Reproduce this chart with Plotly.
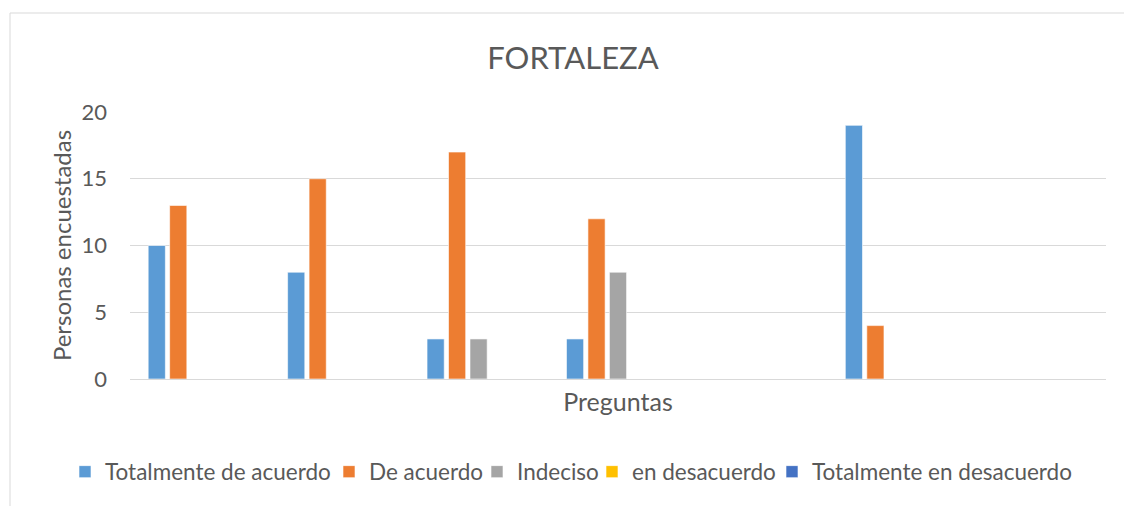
import plotly.graph_objects as go

categories = ["P1", "P2", "P3", "P4", "P5", "P6", "P7"]
totalmente_de_acuerdo = [10, 8, 3, 3, None, 19, None]
de_acuerdo = [13, 15, 17, 12, None, 4, None]
indeciso = [None, None, 3, 8, None, None, None]
en_desacuerdo = [None, None, None, None, None, None, None]
totalmente_en_desacuerdo = [None, None, None, None, None, None, None]

series_names = ["Totalmente de acuerdo", "De acuerdo", "Indeciso", "en desacuerdo", "Totalmente en desacuerdo"]
series_values = [totalmente_de_acuerdo, de_acuerdo, indeciso, en_desacuerdo, totalmente_en_desacuerdo]
series_colors = ["#5B9BD5", "#ED7D31", "#A5A5A5", "#FFC000", "#4472C4"]
# left pixel position of each legend entry's text (layout only)
legend_text_x = [103, 367, 515, 630, 810]

FONT = "Lato"
W, H = 1124, 506
L, R, T, B = 130, 18, 112, 127
pw, ph = W - L - R, H - T - B

fig = go.Figure()
legend_ids = ["legend", "legend2", "legend3", "legend4", "legend5"]
for name, vals, color, lid in zip(series_names, series_values, series_colors, legend_ids):
    fig.add_trace(go.Bar(
        x=categories, y=vals, name=name, legend=lid,
        marker=dict(color=color, line=dict(color="white", width=0.6)),
    ))

def px_x(px):
    return (px - L) / pw

def px_y(py):
    return (H - B - py) / ph

fig.add_shape(type="rect", xref="paper", yref="paper",
              x0=px_x(10), x1=px_x(1135), y0=px_y(13), y1=px_y(530),
              line=dict(color="#d9d9d9", width=1), fillcolor="rgba(0,0,0,0)", layer="below")

legends = {}
for lid, tx in zip(legend_ids, legend_text_x):
    legends[lid] = dict(orientation="h", xref="container", yref="container",
                        x=(tx - 38) / W, xanchor="left", y=1 - 472 / H, yanchor="middle",
                        font=dict(family=FONT, size=22.5, color="#595959"),
                        itemwidth=30, bgcolor="rgba(0,0,0,0)")

fig.update_layout(
    width=W, height=H,
    margin=dict(l=L, r=R, t=T, b=B),
    paper_bgcolor="white", plot_bgcolor="white",
    barmode="group", bargap=0.23, bargroupgap=0.2,
    font=dict(family=FONT, color="#595959"),
    title=dict(text="FORTALEZA", xref="container", x=573 / W, xanchor="center", y=1 - 58 / H, yanchor="middle",
               font=dict(family=FONT, size=31, color="#595959")),
    xaxis=dict(showticklabels=False, showgrid=False, zeroline=False, showline=False,
               ticks="",
               title=dict(text="Preguntas", font=dict(family=FONT, size=25, color="#595959"), standoff=14)),
    yaxis=dict(range=[0, 20], dtick=5, showgrid=True, gridcolor="#d9d9d9", gridwidth=1,
               zeroline=True, zerolinecolor="#d9d9d9", zerolinewidth=1, showline=False,
               ticks="", ticklabelstandoff=22,
               tickfont=dict(family=FONT, size=22, color="#595959"),
               title=dict(text="Personas encuestadas", font=dict(family=FONT, size=24, color="#595959"), standoff=3)),
    showlegend=True,
    **legends,
)

fig.write_html("out.html", config={"displayModeBar": False},
               post_script="document.body.style.margin='0';")
